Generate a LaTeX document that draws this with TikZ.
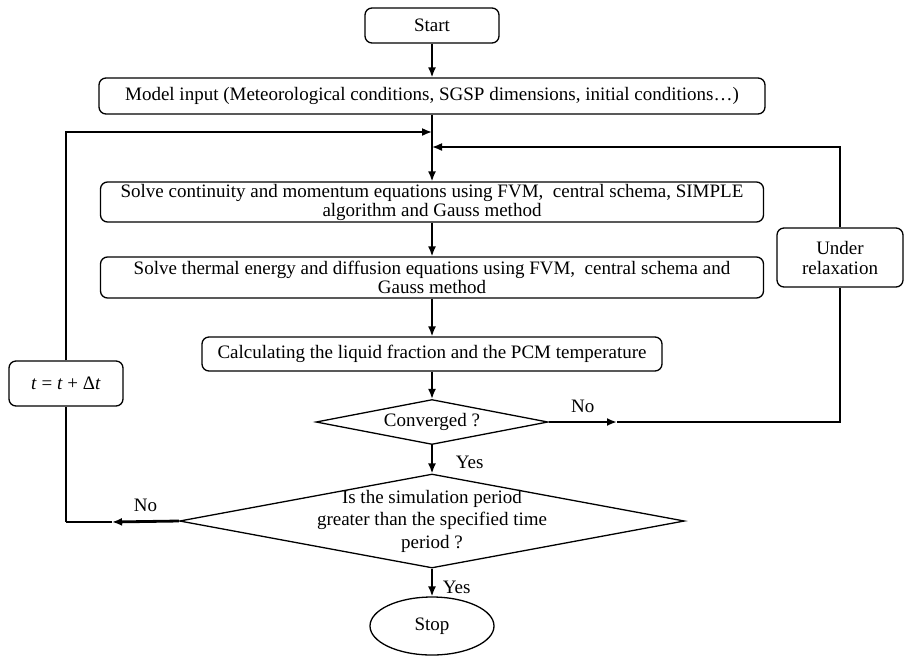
\documentclass[tikz,border=0pt]{standalone}
\usepackage{fontspec}
\setmainfont{Liberation Serif}
\usetikzlibrary{shapes.geometric,arrows.meta}

\tikzset{
    procbox/.style={rectangle, draw, line width=1.3pt, rounded corners=7pt, inner sep=0pt, align=center},
    decision/.style={diamond, draw, line width=1.3pt, inner sep=0pt, aspect=5},
    terminal/.style={ellipse, draw, line width=1.3pt, inner sep=0pt},
    link/.style={line width=1.6pt},
    boldlink/.style={line width=2.8pt},
    flow/.style={link, -{Latex[length=10pt,width=8pt]}},
    boldflow/.style={boldlink, -{Latex[length=10pt,width=8pt]}},
    answer/.style={inner sep=0pt},
}

\begin{document}
\begin{tikzpicture}[x=1pt, y=-1pt, font=\fontsize{19}{19}\selectfont]
    \useasboundingbox (0,0) rectangle (907,657);

    % main column
    \node(start) [procbox, minimum width=134, minimum height=35] at (432,25.5) {Start};
    \node(model) [procbox, minimum width=666, minimum height=36] at (432,96) {Model input (Meteorological conditions, SGSP dimensions, initial conditions…)};
    \node(solvemom) [procbox, minimum width=663, minimum height=40] at (432,202) {Solve continuity and momentum equations using FVM,~ central schema, SIMPLE\\algorithm and Gauss method};
    \node(solveheat) [procbox, minimum width=663, minimum height=41] at (432,277.5) {Solve thermal energy and diffusion equations using FVM,~ central schema and\\Gauss method};
    \node(liquid) [procbox, minimum width=460, minimum height=34] at (432,354) {Calculating the liquid fraction and the PCM temperature};
    \node(conv) [decision, minimum width=232, minimum height=45] at (432,422) {Converged ?};
    \node(period) [decision, minimum width=505, minimum height=94] at (432,521) {};
    \node(periodtext) [align=center, font=\fontsize{19}{22.5}\selectfont] at (period.center) {Is the simulation period\\greater than the specified time\\period ?};
    \node(stop) [terminal, minimum width=124, minimum height=58] at (432,626) {Stop};

    % side boxes
    \node(relax) [procbox, minimum width=126, minimum height=59, font=\fontsize{19}{20}\selectfont] at (840,257.5) {Under\\relaxation};
    \node(tstep) [procbox, minimum width=114, minimum height=45] at (66,383.5) {\textit{t} = \textit{t} + Δ\textit{t}};

    % points on the loops
    \coordinate (joinleft) at (432,132);
    \coordinate (joinright) at (432,147);
    \coordinate (noright) at (617,422);
    \coordinate (noleft) at (112,522);
    \coordinate (cornerleft) at (66,522);

    % main flow
    \draw[flow] (start) -- (model);
    \draw[flow] (model) -- (solvemom);
    \draw[flow] (solvemom) -- (solveheat);
    \draw[flow] (solveheat) -- (liquid);
    \draw[flow] (liquid) -- (conv);
    \draw[flow] (conv) -- node[answer, anchor=west, xshift=23pt, yshift=-3pt] {Yes} (period);
    \draw[flow] (period) -- node[answer, anchor=west, xshift=10pt, yshift=-5pt] {Yes} (stop);

    % inner loop
    \draw[boldflow] (conv.east) -- node[answer, anchor=south, yshift=8pt] {No} (noright);
    \draw[link] (noright) -| (relax.south);
    \draw[flow] (relax.north) |- (joinright);

    % time loop
    \draw[boldflow] (period.west) -- node[answer, anchor=south, yshift=8pt] {No} (noleft);
    \draw[boldlink] (noleft) -- (cornerleft);
    \draw[link] (cornerleft) -- (tstep.south);
    \draw[flow] (tstep.north) |- (joinleft);
\end{tikzpicture}
\end{document}
